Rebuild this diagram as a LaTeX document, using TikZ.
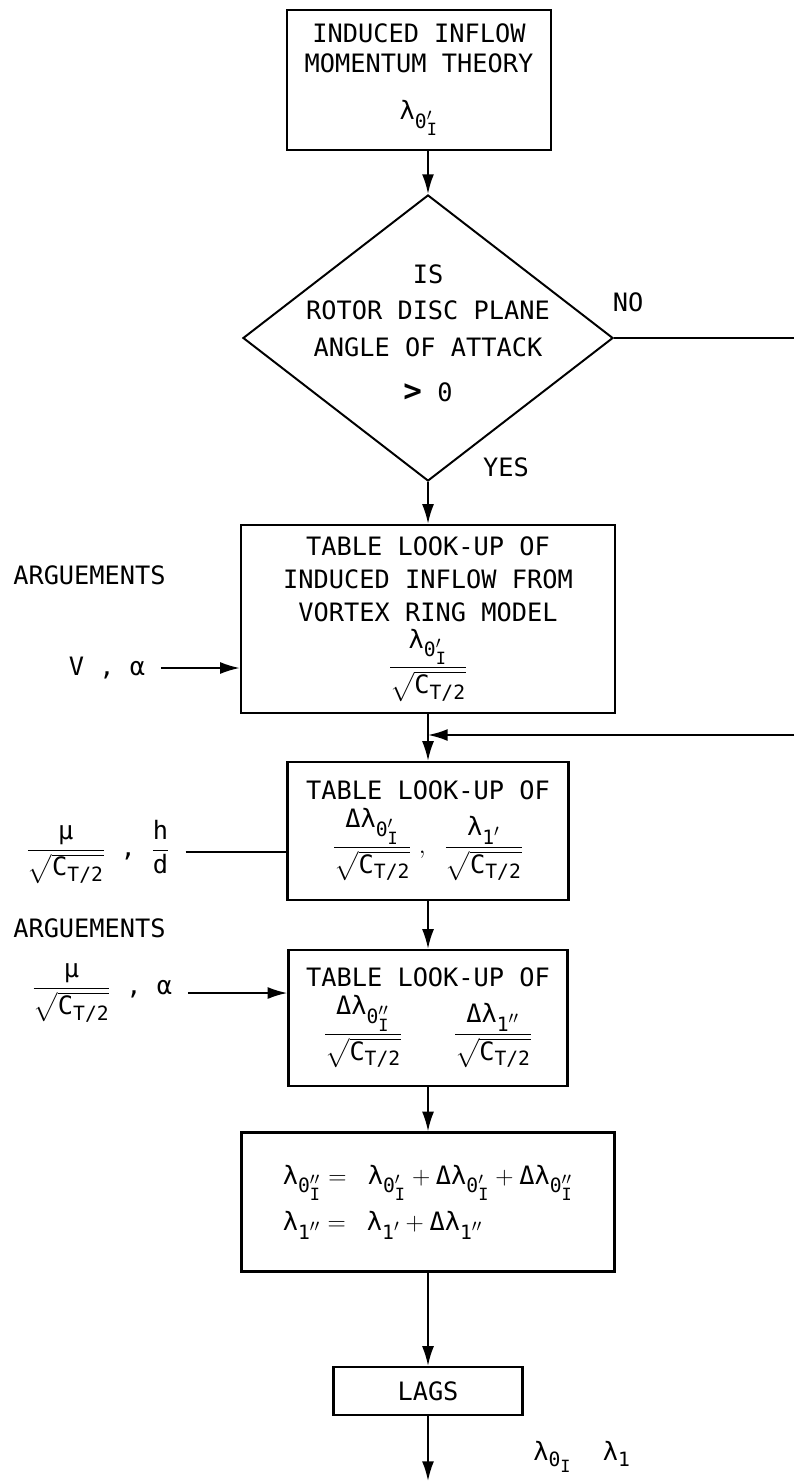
\documentclass[tikz,border=0pt]{standalone}
\usepackage{fix-cm}
\usepackage{amsmath}
\usepackage{fontspec}
\setmainfont{DejaVu Sans Mono}
\usetikzlibrary{arrows.meta, positioning, shapes.geometric, calc}
\DeclareMathSizes{18}{18}{14}{12}

\newcommand{\flowfont}{\fontsize{18}{23.5}\selectfont}
\newcommand{\lam}{\text{λ}}
\newcommand{\dlam}{\text{Δλ}}
\newcommand{\sqc}{\sqrt{\text{C}_{\text{T/2}}}}
\newcommand{\oi}[1]{_{\text{0}^{#1}_{\text{I}}}}
\newcommand{\numgap}{\rule[-6pt]{0pt}{6pt}}

\begin{document}
\begin{tikzpicture}[x=0.025cm, y=-0.025cm,
  box/.style={rectangle, draw, line width=1.6pt, align=center, inner sep=0pt, font=\flowfont},
  decision/.style={diamond, draw, line width=1.4pt, inner sep=0pt, minimum width=9.25cm, minimum height=7.15cm},
  txt/.style={font=\flowfont, inner sep=0pt},
  arg/.style={font=\flowfont, inner ysep=0pt, inner xsep=11pt},
  flow/.style={line width=1.4pt, -{Latex[length=14pt, width=8.5pt]}},
  link/.style={line width=1.4pt},
]
  \useasboundingbox (0,0) rectangle (794,1483);

  \node[box, minimum width=6.6cm, minimum height=3.5cm, font=\fontsize{18}{21.3}\selectfont] (momentum) at (419,80) {INDUCED INFLOW\\MOMENTUM THEORY\\[12pt]$\lam\oi{\prime}$};

  \node[decision] (attack) at (428,338) {};
  \node[txt, align=center, font=\fontsize{18}{26}\selectfont] (query) at (428,333) {IS\\ROTOR DISC PLANE\\ANGLE OF ATTACK\\[6pt]{\bfseries\fontsize{22}{26}\selectfont >} 0};
  \node[txt] (no) at (628,302) {NO};
  \node[txt] (yes) at (506,467) {YES};

  \node[box, minimum width=9.35cm, minimum height=4.7cm] (ringtab) at (428,619) {TABLE LOOK-UP OF\\INDUCED INFLOW FROM\\VORTEX RING MODEL\\[4pt]$\dfrac{\lam\oi{\prime}\numgap}{\sqc}$};
  \node[box, minimum width=7.025cm, minimum height=3.45cm] (groundtab) at (428,831) {TABLE LOOK-UP OF\\[5pt]$\dfrac{\dlam\oi{\prime}\numgap}{\sqc}\;,\;\;\dfrac{\lam_{\text{1}^{\prime}}\numgap}{\sqc}$};
  \node[box, minimum width=6.975cm, minimum height=3.4cm] (pitchtab) at (428,1018) {TABLE LOOK-UP OF\\[5pt]$\dfrac{\dlam\oi{\prime\prime}\numgap}{\sqc}\qquad\dfrac{\dlam_{\text{1}^{\prime\prime}}\numgap}{\sqc}$};
  \node[box, minimum width=9.325cm, minimum height=3.475cm, align=left, font=\fontsize{18}{33}\selectfont] (total) at (428,1202) {$\lam\oi{\prime\prime} = \;\;\lam\oi{\prime} + \dlam\oi{\prime} + \dlam\oi{\prime\prime}$\\$\lam_{\text{1}^{\prime\prime}} = \;\;\lam_{\text{1}^{\prime}} + \dlam_{\text{1}^{\prime\prime}}$};
  \node[box, minimum width=4.725cm, minimum height=1.2cm] (lags) at (428,1391) {LAGS};
  \node[txt] (outputs) at (582,1457) {$\lam_{\text{0}_{\text{I}}}$\hspace{22pt}$\lam_{\text{1}}$};

  % Arguments
  \node[txt, anchor=west] (args1) at (13,575) {ARGUEMENTS};
  \node[arg] (va) at (107,668) {V , α};
  \node[arg] (muhd) at (98,852) {$\dfrac{\text{μ}}{\sqc}$ , $\dfrac{\text{h}}{\text{d}}$};
  \node[txt, anchor=west] (args2) at (13,928) {ARGUEMENTS};
  \node[arg] (mua) at (102,993) {$\dfrac{\text{μ}}{\sqc}$ , α};

  \draw[flow] (va.east) -- (va.east -| ringtab.west);
  \draw[link] (muhd.east) -- (muhd.east -| groundtab.west);
  \draw[flow] (mua.east) -- (mua.east -| pitchtab.west);

  % Main line
  \coordinate (exit) at (428,1481);
  \draw[flow] (momentum.south -| attack.north) -- (attack.north);
  \draw[flow] (attack.south) -- (ringtab.north);
  \draw[flow] (ringtab.south) -- (groundtab.north);
  \draw[flow] (groundtab.south) -- (pitchtab.north);
  \draw[flow] (pitchtab.south) -- (total.north);
  \draw[flow] (total.south) -- (lags.north);
  \draw[flow] (lags.south) -- (exit);

  % NO branch
  \coordinate (noend) at (794,338);
  \coordinate (noback) at (794,735);
  \draw[link] (attack.east) -- (noend);
  \draw[flow] (noback) -- (noback -| ringtab.south);
\end{tikzpicture}
\end{document}
